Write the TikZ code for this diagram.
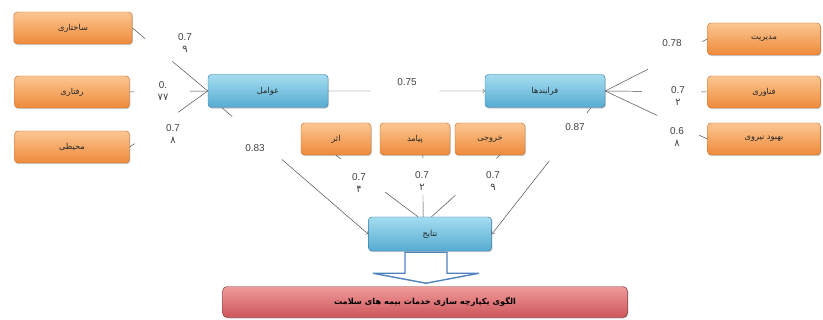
\documentclass[tikz,border=0pt]{standalone}
\usepackage{fontspec}
\setmainfont{Liberation Sans}
\newfontfamily\arabicfont[Script=Arabic]{DejaVu Sans}
\TeXXeTstate=1
\usetikzlibrary{calc,shadows}

\definecolor{orgtop}{RGB}{252,198,145}
\definecolor{orgbot}{RGB}{238,138,58}
\definecolor{orgline}{RGB}{200,115,50}
\definecolor{blutop}{RGB}{165,220,240}
\definecolor{blubot}{RGB}{85,172,210}
\definecolor{bluline}{RGB}{55,125,165}
\definecolor{redtop}{RGB}{240,155,155}
\definecolor{redbot}{RGB}{205,85,90}
\definecolor{redline}{RGB}{130,55,55}
\definecolor{arrline}{RGB}{80,130,190}
\definecolor{lnk}{RGB}{70,70,70}

\def\fa#1{{\arabicfont\beginR #1\endR}}
\def\gapline[#1](#2)(#3)(#4:#5){\draw[lnk] (#2) -- ($(#2)!#4!(#3)$); \draw[lnk,#1] ($(#2)!#5!(#3)$) -- (#3);}

\tikzset{
  obox/.style={rectangle, rounded corners=3pt, draw=orgline, top color=orgtop, bottom color=orgbot,
    minimum height=0.96cm, text=black!85, font=\fontsize{7}{8}\selectfont,
    drop shadow={shadow xshift=0.7pt, shadow yshift=-0.9pt, opacity=0.4}},
  bbox/.style={rectangle, rounded corners=3pt, draw=bluline, top color=blutop, bottom color=blubot,
    minimum width=3.6cm, minimum height=0.99cm, text=black!85, font=\fontsize{7}{8}\selectfont,
    drop shadow={shadow xshift=0.7pt, shadow yshift=-0.9pt, opacity=0.4}},
  rbox/.style={rectangle, rounded corners=4pt, draw=redline, top color=redtop, bottom color=redbot,
    minimum width=12.15cm, minimum height=0.93cm, text=black, font=\fontsize{7}{8}\selectfont\bfseries,
    drop shadow={shadow xshift=0.7pt, shadow yshift=-0.9pt, opacity=0.4}},
  num/.style={font=\fontsize{8.5}{11}\selectfont, text=black!75, align=center, inner sep=0pt},
  blockarr/.style={draw=arrline, line width=1.2pt, fill=white, line join=miter},
}

\begin{document}
\begin{tikzpicture}[x=0.03cm, y=-0.03cm]
  %%%%% START %%%%%
  \useasboundingbox (0,0) rectangle (823,320);

  \node[obox, minimum width=3.55cm] (sakh) at (73,28) {\fa{ساختاری}};
  \node[obox, minimum width=3.45cm] (raft) at (72,92) {\fa{رفتاری}};
  \node[obox, minimum width=3.45cm] (mohit) at (72,147) {\fa{محیطی}};

  \node[bbox] (avamel) at (268,91) {\fa{عوامل}};
  \node[bbox] (farayand) at (545,91) {\fa{فرایندها}};

  \node[obox, minimum width=3.39cm] (modir) at (764,39) {\fa{مدیریت}};
  \node[obox, minimum width=3.39cm] (fanavari) at (764,92) {\fa{فناوری}};
  \node[obox, minimum width=3.39cm] (nirou) at (764,139) {\fa{بهبود نیروی}};

  \node[obox, minimum width=2.1cm] (asar) at (336,139) {\fa{اثر}};
  \node[obox, minimum width=2.1cm] (payamad) at (415,139) {\fa{پیامد}};
  \node[obox, minimum width=2.1cm] (khoruji) at (490,139) {\fa{خروجی}};

  \node[bbox, minimum width=3.7cm, minimum height=1.02cm] (natayej) at (430,234) {\fa{نتایج}};
  \node[rbox] (olgou) at (425,302) {\fa{الگوی یکپارچه سازی خدمات بیمه های سلامت}};

  % left side
  \gapline[](sakh.east)(avamel.west)(0.17:0.53);
  \gapline[](raft.east)(avamel.west)(0.06:0.77);
  \gapline[](mohit.east)(avamel.west)(0.06:0.62);
  \node[num] (w1) at (185,43) {0.7\\\fa{۹}};
  \node[num] (w2) at (163,91) {0.\\\fa{۷۷}};
  \node[num] (w3) at (173,134) {0.7\\\fa{۸}};

  % top
  \gapline[->](avamel.east)(farayand.west)(0.27:0.71);
  \node[num] (w5) at (407,82) {0.75};

  % right side
  \gapline[](farayand.east)(modir.west)(0.42:0.95);
  \gapline[](farayand.east)(fanavari.west)(0.36:0.94);
  \gapline[](farayand.east)(nirou.west)(0.51:0.92);
  \node[num] (w7) at (672,43) {0.78};
  \node[num] (w8) at (678,96) {0.7\\\fa{۲}};
  \node[num] (w9) at (677,137) {0.6\\\fa{۸}};

  % into results
  \gapline[->](avamel.-160)(natayej.west)(0.07:0.41);
  \gapline[->](farayand.-20)(natayej.east)(0.04:0.42);
  \node[num] (w4) at (255,148) {0.83};
  \node[num] (w6) at (575,127) {0.87};

  \gapline[](asar.south)(natayej.125)(0.06:0.6);
  \gapline[](payamad.-64)(natayej.112)(0.05:0.65);
  \gapline[](khoruji.-59)(natayej.85)(0.05:0.65);
  \node[num] (w10) at (359,183) {0.7\\\fa{۴}};
  \node[num] (w11) at (422,181) {0.7\\\fa{۲}};
  \node[num] (w12) at (493,181) {0.7\\\fa{۹}};

  % big arrow down
  \draw[blockarr] ($(natayej.south)+(-25,1)$) -- ++(0,21) -- ++(-32,0) -- ++(53,10)
    -- ++(53,-10) -- ++(-32,0) -- ++(0,-21) -- cycle;
  %%%%% END %%%%%
\end{tikzpicture}
\end{document}
